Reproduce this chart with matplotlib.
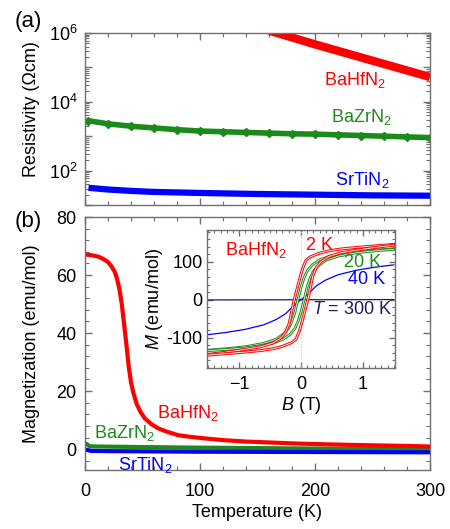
import numpy as np
import matplotlib
matplotlib.use('Agg')
import matplotlib.pyplot as plt
from matplotlib.ticker import MultipleLocator, FixedLocator, FixedFormatter, LogLocator, NullFormatter
import matplotlib.patheffects as pe

plt.rcParams['font.family'] = ['Liberation Sans', 'DejaVu Sans']
plt.rcParams['mathtext.fontset'] = 'custom'
plt.rcParams['mathtext.rm'] = 'Liberation Sans'
plt.rcParams['mathtext.it'] = 'Liberation Sans:italic'
plt.rcParams['font.size'] = 13

RED = '#ff0000'
GREEN = '#1a8a1a'
BLUE = '#0000ff'
NAVY = '#1c1c5e'
FRAME = '#707070'

# ---- (a) resistivity, log10(rho / Ohm cm) ----
T_hf_rho = [160, 180, 200, 220, 240, 260, 280, 300]
logrho_hf = [6.07, 5.87, 5.67, 5.48, 5.29, 5.10, 4.91, 4.72]

T_zr_rho = [3, 20, 40, 60, 80, 100, 120, 140, 160, 180, 200, 220, 240, 260, 280, 300]
logrho_zr = [3.45, 3.36, 3.29, 3.24, 3.19, 3.15, 3.13, 3.11, 3.09, 3.07, 3.06, 3.04, 3.02, 3.00, 2.98, 2.96]

T_ti_rho = [3, 20, 40, 60, 100, 150, 200, 250, 300]
logrho_ti = [1.50, 1.45, 1.41, 1.38, 1.35, 1.32, 1.30, 1.28, 1.27]

# ---- (b) magnetization vs temperature ----
T_hf_m = [2, 6, 12, 16, 20, 23, 26, 28, 30, 32, 34, 36, 38, 40, 42, 45, 48, 52,
          58, 64, 72, 81, 92, 104, 120, 140, 160, 185, 215, 250, 280, 300]
M_hf = [67, 66.8, 66.3, 65.5, 64.5, 63, 61, 58.5, 55, 50, 43, 36, 28.5, 23, 19.5, 15.5, 13, 10.6,
        8.5, 7.1, 5.9, 4.8, 4.2, 3.7, 3.1, 2.6, 2.3, 1.9, 1.6, 1.3, 1.1, 0.9]

T_zr_m = [2, 4, 10, 50, 100, 200, 300]
M_zr = [1.6, 1.0, 0.9, 0.7, 0.5, 0.2, -0.1]

T_ti_m = [2, 5, 20, 100, 200, 300]
M_ti = [-0.3, -0.6, -0.7, -0.9, -1.0, -1.1]

# ---- inset: M(B) loops of BaHfN2 ----
B_2K_down = [1.5, 1.2, 0.9, 0.65, 0.45, 0.3, 0.15, 0.08, 0.03, 0.0, -0.03, -0.07, -0.11,
             -0.15, -0.19, -0.25, -0.32, -0.45, -0.65, -0.9, -1.2, -1.5]
M_2K_down = [146, 142, 138, 134, 129, 123, 113, 104, 84, 68, 50, 25, 0,
             -30, -62, -86, -100, -114, -124, -131, -138, -144]
B_2K_up = [-1.5, -1.2, -0.9, -0.65, -0.45, -0.3, -0.15, -0.08, -0.03, 0.0, 0.03, 0.07, 0.11,
           0.15, 0.19, 0.25, 0.32, 0.45, 0.65, 0.9, 1.2, 1.5]
M_2K_up = [-146, -142, -138, -134, -129, -123, -113, -104, -84, -68, -50, -25, 0,
           30, 62, 86, 100, 114, 124, 131, 138, 144]

B_20K_down = [1.5, 1.2, 0.9, 0.65, 0.45, 0.3, 0.18, 0.1, 0.05, 0.0, -0.05, -0.1, -0.15,
              -0.2, -0.28, -0.4, -0.6, -0.9, -1.2, -1.5]
M_20K_down = [134, 131, 127, 121, 114, 105, 92, 76, 58, 33, 0, -34, -58,
              -75, -90, -104, -115, -124, -129, -133]
B_20K_up = [-1.5, -1.2, -0.9, -0.65, -0.45, -0.3, -0.18, -0.1, -0.05, 0.0, 0.05, 0.1, 0.15,
            0.2, 0.28, 0.4, 0.6, 0.9, 1.2, 1.5]
M_20K_up = [-134, -131, -127, -121, -114, -105, -92, -76, -58, -33, 0, 34, 58,
            75, 90, 104, 115, 124, 129, 133]

B_40K = [-1.5, -1.2, -0.9, -0.6, -0.4, -0.25, -0.12, -0.05, 0, 0.05, 0.12, 0.25, 0.4, 0.6, 0.9, 1.2, 1.5]
M_40K = [-92, -86, -78, -66, -52, -37, -16, -6, 0, 6, 16, 37, 52, 66, 78, 86, 92]

B_300K = [-1.5, 1.5]
M_300K = [-0.5, 0.5]


def style_axes(ax):
    for s in ax.spines.values():
        s.set_color(FRAME)
        s.set_linewidth(1.0)
    ax.tick_params(which='both', direction='in', top=True, right=True, color=FRAME)
    ax.tick_params(which='major', length=5, width=1.0)
    ax.tick_params(which='minor', length=3, width=0.8)


fig = plt.figure(figsize=(4.5, 5.29), dpi=100)

# (a)
ax1 = fig.add_axes([85 / 450, 1 - 205 / 529, 345 / 450, 172 / 529])
ax1.plot(T_hf_rho, 10 ** np.array(logrho_hf), color=RED, lw=6, solid_capstyle='butt')
ax1.plot(T_zr_rho, 10 ** np.array(logrho_zr), color=GREEN, lw=4, marker='D', ms=4,
         solid_capstyle='round')
ax1.plot(T_ti_rho, 10 ** np.array(logrho_ti), color=BLUE, lw=4.5, solid_capstyle='butt')
ax1.set_yscale('log')
ax1.set_xlim(0, 300)
ax1.set_ylim(10, 1e6)
ax1.yaxis.set_major_locator(FixedLocator([1e1, 1e2, 1e3, 1e4, 1e5, 1e6]))
ax1.yaxis.set_major_formatter(FixedFormatter(['', '$10^2$', '', '$10^4$', '', '$10^6$']))
ax1.yaxis.set_minor_locator(LogLocator(base=10, subs=np.arange(2, 10), numticks=20))
ax1.yaxis.set_minor_formatter(NullFormatter())
ax1.xaxis.set_major_locator(MultipleLocator(100))
ax1.xaxis.set_minor_locator(MultipleLocator(20))
ax1.set_xticklabels([])
style_axes(ax1)
ax1.tick_params(axis='y', which='major', pad=5)
ax1.set_ylabel('Resistivity (Ωcm)')
ax1.yaxis.set_label_coords(-0.13, 0.56)
ax1.text(235, 10 ** 4.62, 'BaHfN$_2$', color=RED, ha='center', va='center')
ax1.text(240, 10 ** 3.55, 'BaZrN$_2$', color=GREEN, ha='center', va='center')
ax1.text(241, 10 ** 1.73, 'SrTiN$_2$', color=BLUE, ha='center', va='center')
fig.text(28 / 450, 1 - 22 / 529, '(a)', fontsize=16, ha='center', va='center')

# (b)
ax2 = fig.add_axes([85 / 450, 1 - 470 / 529, 345 / 450, 253 / 529])
ax2.plot(T_zr_m, M_zr, color=GREEN, lw=3)
ax2.plot(T_ti_m, M_ti, color=BLUE, lw=3)
ax2.plot(T_hf_m, M_hf, color=RED, lw=3)
ax2.set_xlim(0, 300)
ax2.set_ylim(-7.2, 80)
ax2.xaxis.set_major_locator(MultipleLocator(100))
ax2.xaxis.set_minor_locator(MultipleLocator(20))
ax2.yaxis.set_major_locator(MultipleLocator(20))
ax2.yaxis.set_minor_locator(MultipleLocator(4))
style_axes(ax2)
ax2.tick_params(axis='x', which='major', pad=9)
ax2.tick_params(axis='y', which='major', pad=6)
ax2.set_xlabel('Temperature (K)', labelpad=3)
ax2.set_ylabel('Magnetization (emu/mol)')
ax2.yaxis.set_label_coords(-0.13, 0.5)
ax2.text(89, 12.4, 'BaHfN$_2$', color=RED, ha='center', va='center')
ax2.text(34, 5.5, 'BaZrN$_2$', color=GREEN, ha='center', va='center')
ax2.text(52.6, -5.5, 'SrTiN$_2$', color=BLUE, ha='center', va='center')
fig.text(28 / 450, 1 - 222 / 529, '(b)', fontsize=16, ha='center', va='center')

# inset
ax3 = fig.add_axes([207 / 450, 1 - 368 / 529, 188 / 450, 138 / 529])
ax3.axvline(0, color='#c8c8c8', lw=0.8, ls=':')
ax3.plot(B_300K, M_300K, color=NAVY, lw=0.9)
ax3.plot(B_40K, M_40K, color=BLUE, lw=0.9)
hollow_g = [pe.Stroke(linewidth=2.0, foreground=GREEN), pe.Normal()]
hollow_r = [pe.Stroke(linewidth=2.1, foreground=RED), pe.Normal()]
ax3.plot(B_20K_down, M_20K_down, color='#e4f4e4', lw=0.6, path_effects=hollow_g)
ax3.plot(B_20K_up, M_20K_up, color='#e4f4e4', lw=0.6, path_effects=hollow_g)
ax3.plot(B_2K_down, M_2K_down, color='#ffe4e4', lw=0.7, path_effects=hollow_r)
ax3.plot(B_2K_up, M_2K_up, color='#ffe4e4', lw=0.7, path_effects=hollow_r)
ax3.set_xlim(-1.52, 1.52)
ax3.set_ylim(-180, 184)
ax3.xaxis.set_major_locator(FixedLocator([-1, 0, 1]))
ax3.xaxis.set_major_formatter(FixedFormatter(['\u22121', '0', '1']))
ax3.xaxis.set_minor_locator(MultipleLocator(0.1))
ax3.yaxis.set_major_locator(FixedLocator([-100, 0, 100]))
ax3.yaxis.set_major_formatter(FixedFormatter(['-100', '0', '100']))
ax3.yaxis.set_minor_locator(MultipleLocator(20))
style_axes(ax3)
ax3.tick_params(which='major', length=4)
ax3.tick_params(which='minor', length=2)
ax3.tick_params(axis='x', which='major', pad=6)
ax3.tick_params(axis='y', which='major', pad=3)
ax3.set_xlabel('$B$ (T)', labelpad=1)
ax3.set_ylabel('$M$ (emu/mol)', labelpad=1)
ax3.text(-0.73, 132, 'BaHfN$_2$', color=RED, ha='center', va='center')
ax3.text(0.3, 143, '2 K', color=RED, ha='center', va='center')
ax3.text(1.0, 97, '20 K', color=GREEN, ha='center', va='center')
ax3.text(1.06, 53, '40 K', color=BLUE, ha='center', va='center')
ax3.text(0.83, -26, '$T$ = 300 K', color=NAVY, ha='center', va='center')

fig.savefig('out.png', dpi=100)
